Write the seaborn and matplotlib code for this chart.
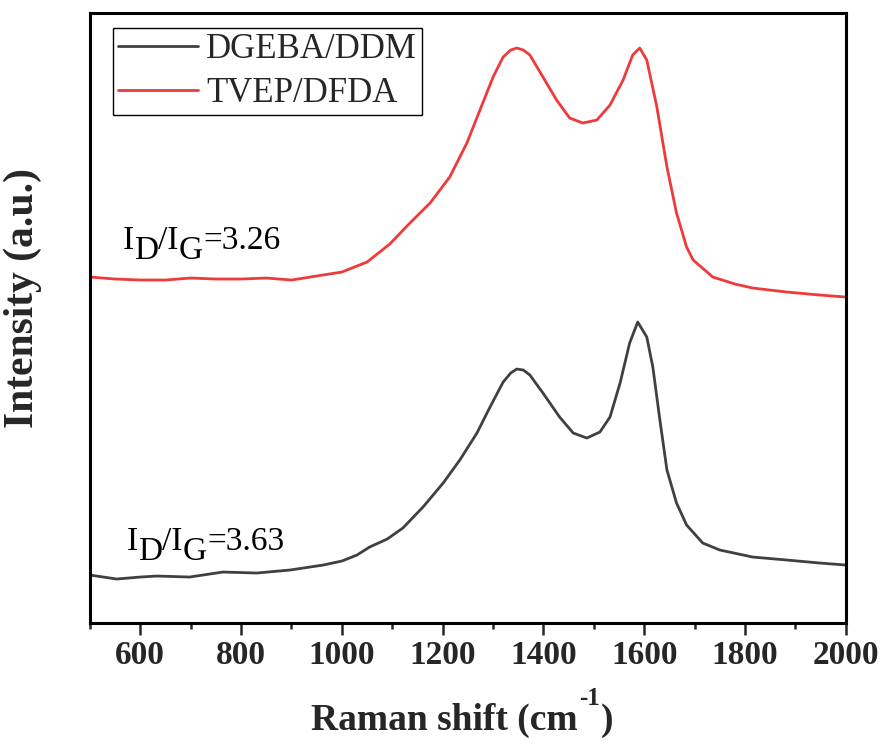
import matplotlib
matplotlib.use("Agg")
import matplotlib.pyplot as plt
import seaborn as sns
import pandas as pd

# values (arbitrary intensity units)
shift_dgeba = [500, 553, 600, 633, 698, 764, 831, 897, 963, 1000, 1030, 1055, 1090, 1121,
               1161, 1201, 1234, 1268, 1294, 1320, 1335, 1347, 1360, 1373, 1399, 1432, 1459,
               1486, 1512, 1532, 1552, 1571, 1587, 1605, 1617, 1631, 1645, 1664, 1684, 1716,
               1750, 1815, 1883, 1948, 2000]
int_dgeba = [48, 44, 46, 47, 46, 51, 50, 53, 58, 62, 68, 76, 84, 95,
             116, 140, 163, 190, 216, 241, 250, 254, 253, 248, 230, 206, 190,
             185, 191, 206, 240, 280, 301, 286, 256, 203, 153, 120, 98, 80,
             73, 66, 63, 60, 58]

shift_tvep = [500, 550, 600, 650, 700, 750, 800, 850, 900, 950, 1000, 1050, 1095, 1135,
              1175, 1214, 1248, 1274, 1300, 1320, 1335, 1347, 1360, 1373, 1399, 1426, 1452,
              1478, 1506, 1532, 1558, 1577, 1591, 1605, 1625, 1645, 1664, 1684, 1697, 1736,
              1780, 1815, 1883, 1948, 2000]
int_tvep = [346, 344, 343, 343, 345, 344, 344, 345, 343, 347, 351, 361, 379, 400,
            420, 446, 480, 513, 546, 566, 573, 575, 573, 568, 546, 523, 505,
            500, 503, 518, 543, 568, 575, 563, 516, 456, 410, 376, 363, 346,
            339, 335, 331, 328, 326]

labels = ["DGEBA/DDM", "TVEP/DFDA"]
colors = ["#404040", "#ee3a3a"]
ratio_texts = ["3.63", "3.26"]

df = pd.concat([
    pd.DataFrame({"shift": shift_dgeba, "intensity": int_dgeba, "sample": labels[0]}),
    pd.DataFrame({"shift": shift_tvep, "intensity": int_tvep, "sample": labels[1]}),
])

sns.set_theme(style="ticks")
plt.rcParams["font.family"] = ["Liberation Serif", "DejaVu Serif"]

fig = plt.figure(figsize=(8.9, 7.53), dpi=100)
ax = fig.add_axes([0.101, 0.1726, 0.8494, 0.8101])

sns.lineplot(data=df, x="shift", y="intensity", hue="sample", palette=dict(zip(labels, colors)),
             linewidth=2.0, ax=ax, sort=False)

ax.set_xlim(500, 2000)
ax.set_ylim(0, 610)
ax.set_xticks(range(600, 2001, 200))
ax.set_xticks(range(500, 2000, 200), minor=True)
ax.set_yticks([])
ax.tick_params(axis="x", which="major", direction="out", length=8.5, width=1.8, pad=4,
               labelsize=24)
ax.tick_params(axis="x", which="minor", direction="out", length=4.5, width=1.8)
for lab in ax.get_xticklabels():
    lab.set_fontweight("bold")
for sp in ax.spines.values():
    sp.set_linewidth(2.2)
    sp.set_color("black")

ax.set_xlabel("")
ax.set_ylabel("Intensity (a.u.)", fontsize=30, fontweight="bold")
ax.yaxis.set_label_coords(-0.0635, 0.533)

# x label with a plain hyphen in the superscript
xl = fig.text(311 / 890, 23 / 753, "Raman shift (cm", fontsize=27, fontweight="bold",
              ha="left", va="baseline")
sup = ax.annotate("-1", xy=(1, 0), xycoords=xl, xytext=(1, 20), textcoords="offset points",
                  va="bottom", fontsize=18, fontweight="bold")
ax.annotate(")", xy=(1, 0), xycoords=(sup, xl), xytext=(0.5, 0), textcoords="offset points",
            va="bottom", fontsize=27, fontweight="bold")

handles, _ = ax.get_legend_handles_labels()
leg = ax.legend(handles, labels, loc="upper left", bbox_to_anchor=(0.03, 0.975),
                borderaxespad=0, fontsize=25, frameon=True, fancybox=False,
                edgecolor="black", framealpha=1, handlelength=2.3, handletextpad=0.25,
                labelspacing=0.3, borderpad=0.15)
leg.get_frame().set_linewidth(1.0)


def ratio_label(x, y, value):
    # I_D/I_G with full-size subscripts, built piece by piece
    kw = dict(fontsize=24, color="black")
    t = ax.text(x, y, "I", **kw)
    parts = [("D", -7), ("/I", 7), ("G", -7), ("=" + value, 7)]
    for txt, dy in parts:
        t = ax.annotate(txt, xy=(1, 0), xycoords=t, xytext=(0, dy),
                        textcoords="offset points", va="bottom", **kw)


ratio_label(566, 374, ratio_texts[1])
ratio_label(574, 73, ratio_texts[0])

fig.savefig("out.png", dpi=100)
